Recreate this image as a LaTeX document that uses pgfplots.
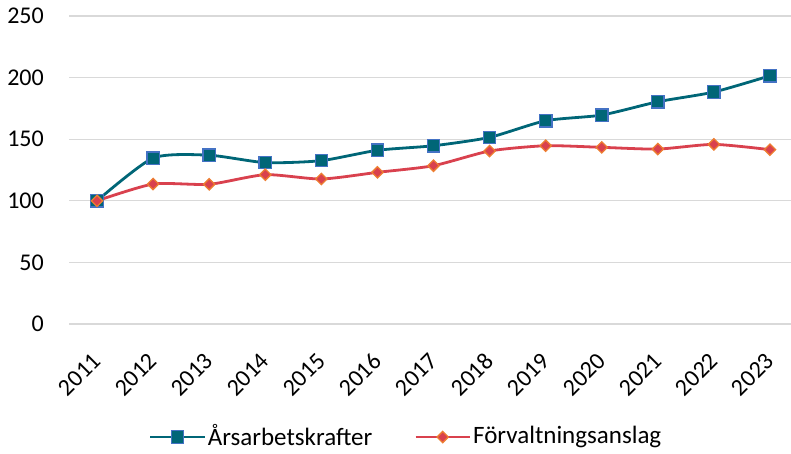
\documentclass[border=0pt]{standalone}
\usepackage{fontspec}
\setmainfont{Carlito}
\usepackage{pgfplots}
\pgfplotsset{compat=1.18}
\definecolor{tealline}{HTML}{006677}
\definecolor{bluemark}{HTML}{4472C4}
\definecolor{redline}{HTML}{D9414E}
\definecolor{orangemark}{HTML}{ED7D31}
\definecolor{gridgray}{HTML}{D9D9D9}
\begin{document}
\fontsize{24}{28}\selectfont
\begin{tikzpicture}
\path[use as bounding box] (-69pt,-129pt) rectangle (722pt,324pt);
\begin{axis}[
  at={(0pt,0pt)}, anchor=south west,
  scale only axis, width=722pt, height=308pt,
  xmin=-0.5, xmax=12.375, ymin=0, ymax=250,
  ytick={0,50,...,250},
  xtick={0,...,12},
  xticklabels={2011,2012,2013,2014,2015,2016,2017,2018,2019,2020,2021,2022,2023},
  axis line style={draw=none},
  major tick length=0pt,
  ymajorgrids,
  grid style={gridgray, line width=1.2pt},
  /pgf/number format/assume math mode=true,
  ticklabel style={font=\fontsize{24}{28}\selectfont},
  yticklabel style={inner sep=0pt, anchor=east, xshift=-25pt},
  xticklabel style={inner sep=0pt, xshift=0pt, yshift=-33pt, rotate=45, anchor=east},
  legend columns=2,
  legend style={at={(0.467,-0.367)}, anchor=center, draw=none, fill=none,
    font=\fontsize{25}{29}\selectfont,
    /tikz/every even column/.append style={column sep=40pt}},
  legend image code/.code={\draw[mark repeat=2,mark phase=2,#1] plot coordinates {(0pt,0pt) (27pt,0pt) (54pt,0pt)};},
]
\addplot[tealline, line width=2.8pt, smooth, tension=0.4, mark=square*, mark size=6.2pt,
  mark options={fill=tealline, draw=bluemark, line width=1.3pt}]
  coordinates {(0,100) (1,134.7) (2,137) (3,131) (4,132.6) (5,141) (6,144.7) (7,151.5) (8,165) (9,169.6) (10,180.4) (11,188.3) (12,201.5)};
\addlegendentry{Årsarbetskrafter}
\addplot[redline, line width=2.8pt, smooth, tension=0.4, mark=square*, mark size=4pt,
  mark options={fill=redline, draw=orangemark, line width=1.3pt, rotate=45}]
  coordinates {(0,100) (1,113.6) (2,113.4) (3,121.2) (4,117.7) (5,123.1) (6,128.5) (7,140.4) (8,144.7) (9,143.4) (10,142) (11,145.8) (12,141.5)};
\addlegendentry{Förvaltningsanslag}
\end{axis}
\end{tikzpicture}
\end{document}
